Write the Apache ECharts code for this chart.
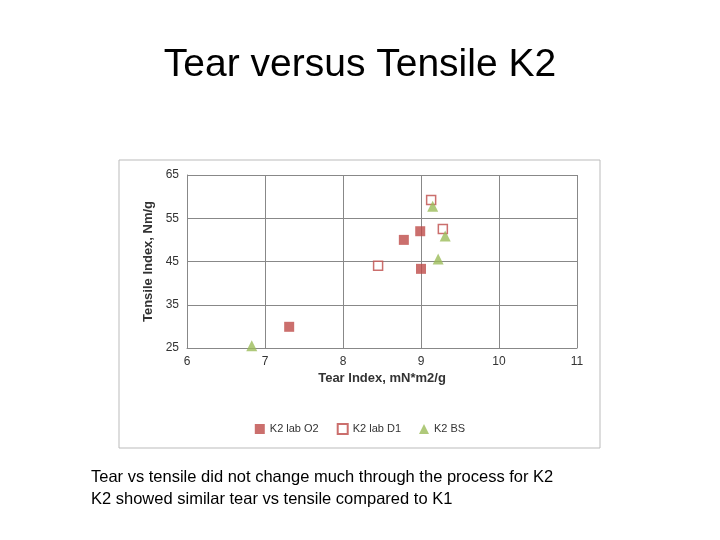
<!DOCTYPE html>
<html><head><meta charset="utf-8">
<script src="https://cdn.jsdelivr.net/npm/echarts@6/dist/echarts.min.js"></script>
<style>body{margin:0;background:#fff}#c{width:720px;height:540px}</style>
</head><body><div id="c"></div>
<script>
// data
var labO2 = [[7.31, 29.9], [8.78, 50.0], [8.99, 52.0], [9.0, 43.3]];
var labD1 = [[9.13, 59.2], [9.28, 52.5], [8.45, 44.0]];
var bs = [[6.83, 25.5], [9.15, 57.8], [9.31, 50.9], [9.22, 45.6]];
var notes = ['Tear vs tensile did not change much through the process for K2',
             'K2 showed similar tear vs tensile compared to K1'];

var chart = echarts.init(document.getElementById('c'));
var font = 'Liberation Sans';
chart.setOption({
  textStyle: {fontFamily: font},
  graphic: [
    {type: 'rect', shape: {x: 119, y: 160, width: 481, height: 288},
     style: {fill: '#fff', stroke: '#bbb', lineWidth: 1}, z: -1},
    {type: 'text', left: 'center', top: 46,
     style: {text: 'Tear versus Tensile K2', font: '39px ' + font, fill: '#000'}},
    {type: 'text', left: 91, top: 466,
     style: {text: notes.join('\n'), font: '16.5px ' + font, lineHeight: 22, fill: '#000'}}
  ],
  grid: {left: 187, top: 175, width: 390, height: 173},
  xAxis: {
    type: 'value', min: 6, max: 11, interval: 1,
    name: 'Tear Index, mN*m2/g', nameLocation: 'middle', nameGap: 24,
    nameTextStyle: {fontWeight: 'bold', fontSize: 13, color: '#333'},
    axisLine: {lineStyle: {color: '#888'}}, axisTick: {show: false},
    axisLabel: {color: '#333', fontSize: 12},
    splitLine: {show: true, lineStyle: {color: '#888'}}
  },
  yAxis: {
    type: 'value', min: 25, max: 65, interval: 10,
    name: 'Tensile Index, Nm/g', nameLocation: 'middle', nameGap: 30,
    nameTextStyle: {fontWeight: 'bold', fontSize: 13, color: '#333'},
    axisLine: {show: true, lineStyle: {color: '#888'}}, axisTick: {show: false},
    axisLabel: {color: '#333', fontSize: 12},
    splitLine: {show: true, lineStyle: {color: '#888'}}
  },
  legend: {
    bottom: 100, left: 'center', itemGap: 18, itemWidth: 10, itemHeight: 10,
    textStyle: {fontSize: 11, color: '#333'},
    data: ['K2 lab O2', 'K2 lab D1', 'K2 BS']
  },
  series: [
    {name: 'K2 lab O2', type: 'scatter', symbol: 'rect', symbolSize: 10, data: labO2,
     itemStyle: {color: '#be4b48'}},
    {name: 'K2 lab D1', type: 'scatter', symbol: 'rect', symbolSize: 9, data: labD1,
     itemStyle: {color: '#fff', borderColor: '#be4b48', borderWidth: 1.5}},
    {name: 'K2 BS', type: 'scatter', symbol: 'triangle', symbolSize: 11, data: bs,
     itemStyle: {color: '#9bbb59'}}
  ]
});
</script></body></html>
